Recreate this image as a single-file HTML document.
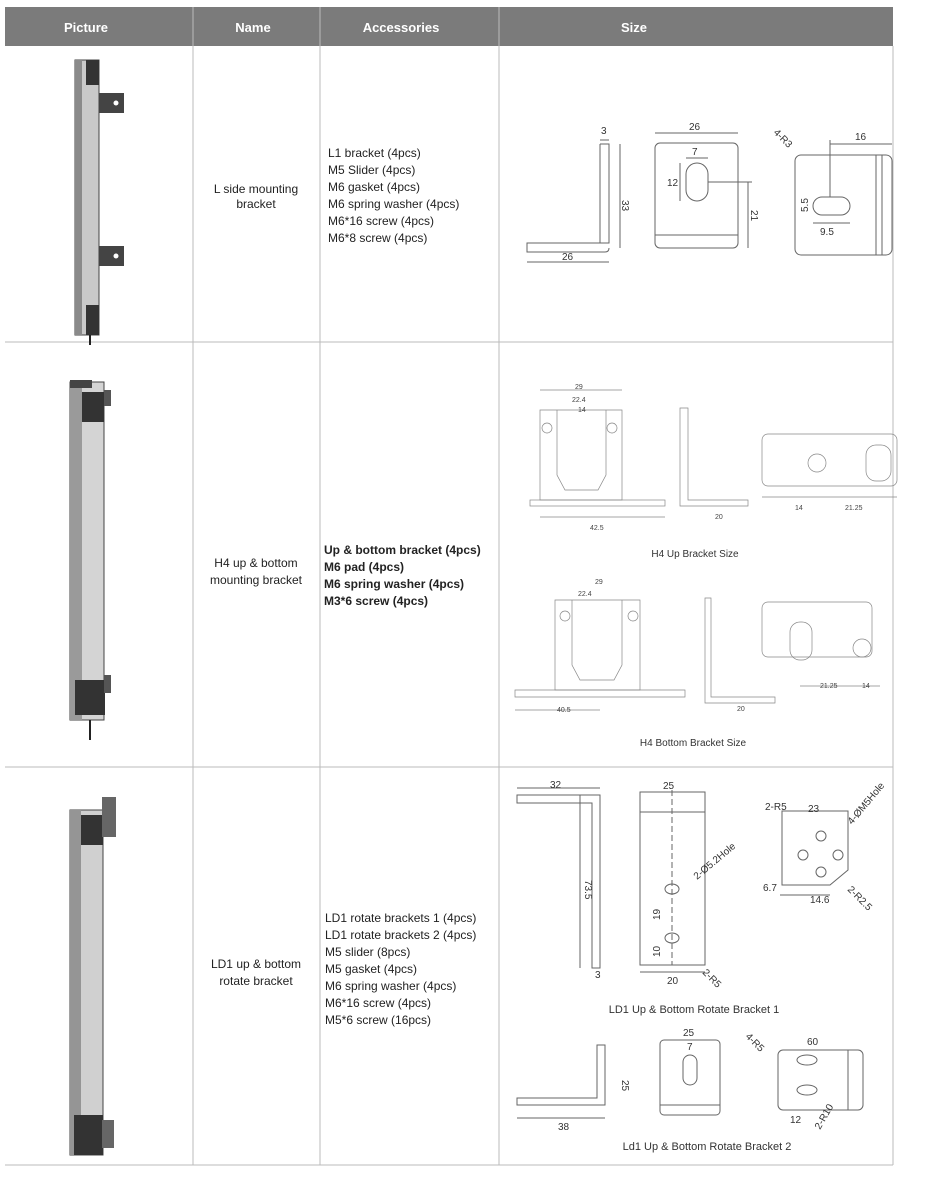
<!DOCTYPE html>
<html><head><meta charset="utf-8"><style>
html,body{margin:0;padding:0;background:#fff;}
svg{display:block;font-family:"Liberation Sans",Arial,sans-serif;}
.h{fill:#fff;font-weight:bold;font-size:13px;}
.t{fill:#222;font-size:12px;}
.tb{fill:#222;font-size:12px;}
.d{fill:#333;font-size:10px;}
.ds{fill:#444;font-size:7px;}
.l{fill:none;stroke:#666;stroke-width:1;}
.th{fill:none;stroke:#888;stroke-width:.7;}
</style></head><body>
<svg width="940" height="1179" viewBox="0 0 940 1179">
<!-- header -->
<rect x="5" y="7" width="888" height="39" fill="#7b7b7b"/>
<g stroke="#bbb" stroke-width="1">
<line x1="193" y1="7" x2="193" y2="1165"/>
<line x1="320" y1="7" x2="320" y2="1165"/>
<line x1="499" y1="7" x2="499" y2="1165"/>
<line x1="893" y1="46" x2="893" y2="1165"/>
<line x1="5" y1="342" x2="893" y2="342"/>
<line x1="5" y1="767" x2="893" y2="767"/>
<line x1="5" y1="1165" x2="893" y2="1165"/>
</g>
<text class="h" x="86" y="32" text-anchor="middle">Picture</text>
<text class="h" x="253" y="32" text-anchor="middle">Name</text>
<text class="h" x="401" y="32" text-anchor="middle">Accessories</text>
<text class="h" x="634" y="32" text-anchor="middle">Size</text>

<!-- curtain 1 -->
<g>
<rect x="75" y="60" width="24" height="275" fill="#c9c9c9" stroke="#444"/>
<rect x="75" y="60" width="7" height="275" fill="#8a8a8a"/>
<rect x="86" y="60" width="13" height="25" fill="#333"/>
<rect x="86" y="305" width="13" height="30" fill="#333"/>
<rect x="99" y="93" width="25" height="20" fill="#444"/>
<circle cx="116" cy="103" r="2.5" fill="#fff"/>
<rect x="99" y="246" width="25" height="20" fill="#444"/>
<circle cx="116" cy="256" r="2.5" fill="#fff"/>
<line x1="90" y1="335" x2="90" y2="345" stroke="#222" stroke-width="2"/>
</g>
<text class="tb" x="256" y="193" text-anchor="middle">L side mounting</text>
<text class="tb" x="256" y="208" text-anchor="middle">bracket</text>
<g class="t">
<text x="328" y="157">L1 bracket (4pcs)</text>
<text x="328" y="174">M5 Slider (4pcs)</text>
<text x="328" y="191">M6 gasket (4pcs)</text>
<text x="328" y="208">M6 spring washer (4pcs)</text>
<text x="328" y="225">M6*16 screw (4pcs)</text>
<text x="328" y="242">M6*8 screw (4pcs)</text>
</g>
<!-- row1 drawings -->
<g class="l">
<path d="M600 144 L609 144 L609 243 L527 243 L527 252 L605 252 Q609 252 609 248"/>
<path d="M600 144 L600 243"/>
<line x1="600" y1="140" x2="609" y2="140"/><line x1="620" y1="144" x2="620" y2="248"/>
<line x1="527" y1="262" x2="609" y2="262"/>
<rect x="655" y="143" width="83" height="105" rx="5"/>
<line x1="655" y1="235" x2="738" y2="235"/>
<rect x="686" y="163" width="22" height="38" rx="11"/>
<line x1="655" y1="133" x2="738" y2="133"/>
<line x1="686" y1="158" x2="708" y2="158"/>
<line x1="680" y1="163" x2="680" y2="201"/>
<line x1="708" y1="182" x2="752" y2="182"/><line x1="748" y1="182" x2="748" y2="248"/>
<rect x="795" y="155" width="97" height="100" rx="6"/>
<line x1="876" y1="155" x2="876" y2="255"/><line x1="882" y1="155" x2="882" y2="255"/>
<rect x="813" y="197" width="37" height="18" rx="9"/>
<line x1="830" y1="140" x2="830" y2="197"/><line x1="830" y1="144" x2="892" y2="144"/>
<line x1="813" y1="223" x2="850" y2="223"/>
</g>
<g class="d">
<text x="601" y="134">3</text><text x="562" y="260">26</text>
<text x="622" y="200" transform="rotate(90 622 200)">33</text>
<text x="689" y="130">26</text><text x="692" y="155">7</text><text x="667" y="186">12</text>
<text x="751" y="210" transform="rotate(90 751 210)">21</text>
<text x="855" y="140">16</text><text x="820" y="235">9.5</text>
<text x="808" y="212" transform="rotate(-90 808 212)">5.5</text>
<text x="773" y="133" transform="rotate(45 773 133)">4-R3</text>
</g>

<!-- curtain 2 -->
<g>
<rect x="70" y="382" width="34" height="338" fill="#d4d4d4" stroke="#444"/>
<rect x="70" y="382" width="12" height="338" fill="#9a9a9a"/>
<rect x="82" y="392" width="22" height="30" fill="#333"/>
<rect x="70" y="380" width="22" height="8" fill="#444"/>
<rect x="104" y="390" width="7" height="16" fill="#555"/>
<rect x="75" y="680" width="30" height="35" fill="#333"/>
<rect x="104" y="675" width="7" height="18" fill="#555"/>
<line x1="90" y1="720" x2="90" y2="740" stroke="#222" stroke-width="2"/>
</g>
<text class="t" x="256" y="567" text-anchor="middle">H4 up &amp; bottom</text>
<text class="t" x="256" y="584" text-anchor="middle">mounting bracket</text>
<g class="tb" style="font-weight:bold">
<text x="324" y="554">Up &amp; bottom bracket (4pcs)</text>
<text x="324" y="571">M6 pad (4pcs)</text>
<text x="324" y="588">M6 spring washer (4pcs)</text>
<text x="324" y="605">M3*6 screw (4pcs)</text>
</g>
<g class="th">
<path d="M540 410 L622 410 L622 500 L540 500 Z"/>
<path d="M557 410 L557 475 L565 490 L598 490 L606 475 L606 410"/>
<rect x="530" y="500" width="135" height="6"/>
<circle cx="547" cy="428" r="5"/><circle cx="612" cy="428" r="5"/>
<line x1="540" y1="390" x2="622" y2="390"/><line x1="540" y1="517" x2="665" y2="517"/>
<path d="M680 408 L688 408 L688 500 L748 500 L748 506 L680 506 Z"/>
<rect x="762" y="434" width="135" height="52" rx="6"/>
<circle cx="817" cy="463" r="9"/><rect x="866" y="445" width="25" height="36" rx="10"/>
<line x1="762" y1="497" x2="897" y2="497"/>
<path d="M515 690 L685 690 L685 697 L515 697 Z"/>
<path d="M555 600 L640 600 L640 690 L555 690 Z"/>
<path d="M572 600 L572 665 L580 680 L614 680 L622 665 L622 600"/>
<circle cx="565" cy="616" r="5"/><circle cx="633" cy="616" r="5"/>
<line x1="515" y1="710" x2="600" y2="710"/>
<path d="M705 598 L711 598 L711 697 L775 697 L775 703 L705 703 Z"/>
<rect x="762" y="602" width="110" height="55" rx="6"/>
<rect x="790" y="622" width="22" height="38" rx="10"/><circle cx="862" cy="648" r="9"/>
<line x1="800" y1="686" x2="880" y2="686"/>
</g>
<g class="ds">
<text x="575" y="389">29</text><text x="572" y="402">22.4</text><text x="578" y="412">14</text>
<text x="590" y="530">42.5</text><text x="715" y="519">20</text>
<text x="795" y="510">14</text><text x="845" y="510">21.25</text>
<text x="595" y="584">29</text><text x="578" y="596">22.4</text><text x="557" y="712">40.5</text>
<text x="737" y="711">20</text><text x="820" y="688">21.25</text><text x="862" y="688">14</text>
</g>
<text class="d" x="695" y="557" text-anchor="middle">H4 Up Bracket Size</text>
<text class="d" x="693" y="746" text-anchor="middle">H4 Bottom Bracket Size</text>

<!-- curtain 3 -->
<g>
<rect x="70" y="810" width="33" height="345" fill="#d0d0d0" stroke="#444"/>
<rect x="70" y="810" width="11" height="345" fill="#959595"/>
<rect x="81" y="815" width="22" height="30" fill="#333"/>
<rect x="102" y="797" width="14" height="40" fill="#666"/>
<rect x="74" y="1115" width="29" height="40" fill="#333"/>
<rect x="102" y="1120" width="12" height="28" fill="#666"/>
</g>
<text class="t" x="256" y="968" text-anchor="middle">LD1 up &amp; bottom</text>
<text class="t" x="256" y="985" text-anchor="middle">rotate bracket</text>
<g class="t">
<text x="325" y="922">LD1 rotate brackets 1 (4pcs)</text>
<text x="325" y="939">LD1 rotate brackets 2 (4pcs)</text>
<text x="325" y="956">M5 slider (8pcs)</text>
<text x="325" y="973">M5 gasket (4pcs)</text>
<text x="325" y="990">M6 spring washer (4pcs)</text>
<text x="325" y="1007">M6*16 screw (4pcs)</text>
<text x="325" y="1024">M5*6 screw (16pcs)</text>
</g>
<g class="l">
<path d="M517 795 L600 795 L600 968 L592 968 L592 803 L517 803 Z"/>
<line x1="517" y1="788" x2="600" y2="788"/><line x1="580" y1="795" x2="580" y2="968"/>
<path d="M640 792 L705 792 L705 965 L640 965 Z"/><line x1="640" y1="812" x2="705" y2="812"/>
<line x1="672" y1="790" x2="672" y2="965" stroke-dasharray="6 3"/>
<ellipse cx="672" cy="889" rx="7" ry="5"/><ellipse cx="672" cy="938" rx="7" ry="5"/>
<line x1="640" y1="972" x2="705" y2="972"/><line x1="655" y1="792" x2="700" y2="792"/>
<path d="M782 811 L848 811 L848 870 L830 885 L782 885 Z"/>
<circle cx="803" cy="855" r="5"/><circle cx="821" cy="836" r="5"/><circle cx="821" cy="872" r="5"/><circle cx="838" cy="855" r="5"/>
<line x1="780" y1="895" x2="830" y2="895"/>
<path d="M597 1045 L605 1045 L605 1105 L517 1105 L517 1098 L597 1098 Z"/>
<line x1="517" y1="1118" x2="605" y2="1118"/>
<rect x="660" y="1040" width="60" height="75" rx="4"/>
<rect x="683" y="1055" width="14" height="30" rx="7"/>
<line x1="660" y1="1105" x2="720" y2="1105"/>
<rect x="778" y="1050" width="85" height="60" rx="5"/>
<ellipse cx="807" cy="1060" rx="10" ry="5"/><ellipse cx="807" cy="1090" rx="10" ry="5"/>
<line x1="848" y1="1050" x2="848" y2="1110"/>
</g>
<g class="d">
<text x="550" y="788">32</text><text x="663" y="789">25</text><text x="808" y="812">23</text>
<text x="595" y="978">3</text><text x="667" y="984">20</text><text x="810" y="903">14.6</text><text x="763" y="891">6.7</text>
<text x="585" y="880" transform="rotate(90 585 880)">73.5</text>
<text x="660" y="920" transform="rotate(-90 660 920)">19</text><text x="660" y="957" transform="rotate(-90 660 957)">10</text>
<text x="697" y="880" transform="rotate(-40 697 880)">2-Ø5.2Hole</text>
<text x="765" y="810">2-R5</text><text x="852" y="825" transform="rotate(-50 852 825)">4-ØM5Hole</text>
<text x="847" y="890" transform="rotate(45 847 890)">2-R2.5</text>
<text x="702" y="973" transform="rotate(45 702 973)">2-R5</text>
<text x="558" y="1130">38</text><text x="683" y="1036">25</text><text x="687" y="1050">7</text>
<text x="622" y="1080" transform="rotate(90 622 1080)">25</text>
<text x="807" y="1045">60</text><text x="790" y="1123">12</text>
<text x="745" y="1037" transform="rotate(45 745 1037)">4-R5</text>
<text x="820" y="1130" transform="rotate(-60 820 1130)">2-R10</text>
</g>
<text class="d" x="694" y="1013" text-anchor="middle" style="font-size:11px">LD1 Up &amp; Bottom Rotate Bracket 1</text>
<text class="d" x="707" y="1150" text-anchor="middle" style="font-size:11px">Ld1 Up &amp; Bottom Rotate Bracket 2</text>
</svg>
</body></html>
